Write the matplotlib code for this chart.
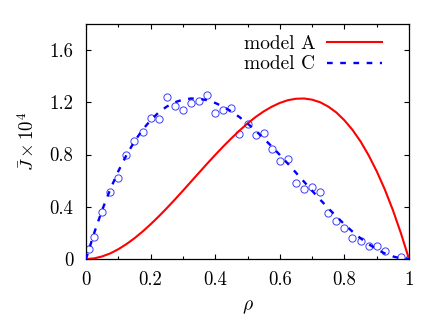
import numpy as np
import matplotlib
matplotlib.use("Agg")
import matplotlib.pyplot as plt

# model curves
rho_model = [0.0, 0.025, 0.05, 0.075, 0.1, 0.125, 0.15, 0.175, 0.2, 0.225, 0.25, 0.275,
             0.3, 0.325, 0.35, 0.375, 0.4, 0.425, 0.45, 0.475, 0.5, 0.525, 0.55, 0.575,
             0.6, 0.625, 0.65, 0.675, 0.7, 0.725, 0.75, 0.775, 0.8, 0.825, 0.85, 0.875,
             0.9, 0.925, 0.95, 0.975, 1.0]
model_A = [0.0, 0.005, 0.020, 0.043, 0.075, 0.114, 0.159, 0.210, 0.266, 0.326, 0.389, 0.455,
           0.523, 0.592, 0.661, 0.730, 0.797, 0.862, 0.924, 0.983, 1.038, 1.087, 1.130, 1.166,
           1.195, 1.216, 1.227, 1.229, 1.220, 1.200, 1.167, 1.122, 1.062, 0.989, 0.900, 0.794,
           0.672, 0.533, 0.375, 0.197, 0.0]
model_C = [0.0, 0.197, 0.375, 0.533, 0.672, 0.794, 0.900, 0.989, 1.062, 1.122, 1.167, 1.200,
           1.220, 1.229, 1.227, 1.216, 1.195, 1.166, 1.130, 1.087, 1.038, 0.983, 0.924, 0.862,
           0.797, 0.730, 0.661, 0.592, 0.523, 0.455, 0.389, 0.326, 0.266, 0.210, 0.159, 0.114,
           0.075, 0.043, 0.020, 0.005, 0.0]

# simulation points
rho_sim = [0.01, 0.025, 0.05, 0.075, 0.1, 0.125, 0.15, 0.175, 0.2, 0.225, 0.25, 0.275,
           0.3, 0.325, 0.35, 0.375, 0.4, 0.425, 0.45, 0.475, 0.5, 0.525, 0.55, 0.575,
           0.6, 0.625, 0.65, 0.675, 0.7, 0.725, 0.75, 0.775, 0.8, 0.825, 0.85, 0.875,
           0.9, 0.925, 0.975, 1.0]
J_sim = [0.077, 0.171, 0.36, 0.51, 0.62, 0.80, 0.90, 0.97, 1.08, 1.07, 1.243, 1.17,
         1.14, 1.197, 1.21, 1.253, 1.12, 1.143, 1.16, 0.957, 1.03, 0.952, 0.962, 0.84,
         0.75, 0.763, 0.58, 0.54, 0.553, 0.51, 0.35, 0.29, 0.237, 0.158, 0.14, 0.097,
         0.10, 0.059, 0.018, 0.0]

xticks = [0, 0.2, 0.4, 0.6, 0.8, 1.0]
xticklabels = ["0", "0.2", "0.4", "0.6", "0.8", "1"]
yticks = [0, 0.4, 0.8, 1.2, 1.6]
yticklabels = ["0", "0.4", "0.8", "1.2", "1.6"]

plt.rcParams['font.family'] = ['cmr10', 'DejaVu Serif']
plt.rcParams['mathtext.fontset'] = 'cm'
plt.rcParams['axes.unicode_minus'] = False

fig = plt.figure(figsize=(4.31, 3.23), dpi=100)
ax = fig.add_axes([0.1995, 0.198, 0.7495, 0.728])

ax.plot(rho_model, model_A, color='#ff0000', lw=1.5, label='model A', zorder=3)
ax.plot(rho_model, model_C, color='#0000ff', lw=1.7, linestyle=(0, (2.4, 3.2)),
        label='model C', zorder=3)
ax.plot(rho_sim, J_sim, linestyle='none', marker='o', markersize=5.2,
        markerfacecolor='none', markeredgecolor='#3c3cff', markeredgewidth=0.7, zorder=2)

ax.set_xlim(0, 1)
ax.set_ylim(0, 1.8)
ax.set_xticks(xticks)
ax.set_xticklabels(xticklabels)
ax.set_xticks(np.arange(0.1, 1.0, 0.2), minor=True)
ax.set_yticks(yticks)
ax.set_yticklabels(yticklabels)

ax.tick_params(which='both', direction='in', top=True, right=True, labelsize=13.5)
ax.tick_params(which='major', length=3.5, width=0.8)
ax.tick_params(which='minor', length=2, width=0.8)
ax.tick_params(axis='x', pad=9)
ax.tick_params(axis='y', pad=9)
for s in ax.spines.values():
    s.set_linewidth(0.9)

ax.set_xlabel(r'$\rho$', fontsize=14, labelpad=6)
ax.set_ylabel(r'$\bar{J}\times 10^4$', fontsize=13.5, labelpad=8)

ax.legend(loc='upper right', frameon=False, markerfirst=False, fontsize=14,
          handlelength=2.8, handletextpad=0.62, borderaxespad=0.0, labelspacing=0.12,
          bbox_to_anchor=(0.94, 0.985))

fig.savefig('out.png', dpi=100)
